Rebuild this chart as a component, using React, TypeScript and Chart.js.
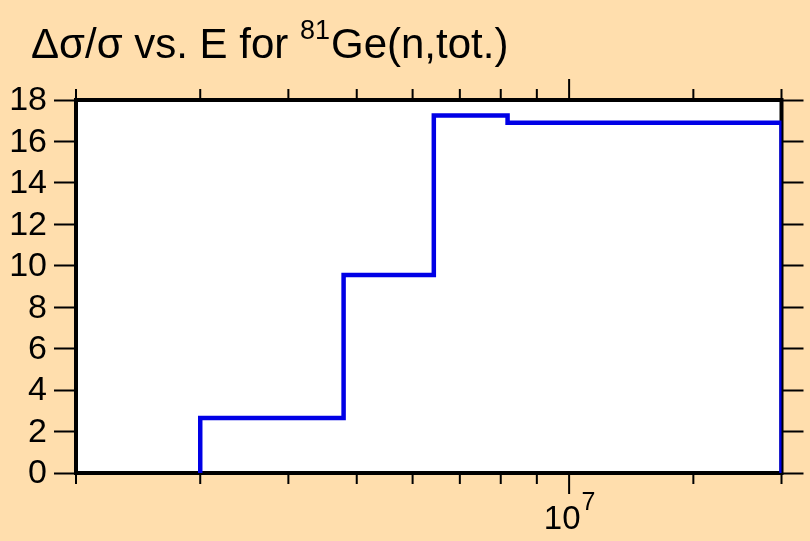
import { useEffect, useRef } from 'react';
import { Chart, registerables } from 'chart.js';

Chart.register(...registerables);

// ---- data ----
const binEdges = [3.0e6, 4.79e6, 6.43e6, 8.18e6, 2.0e7];
const binValues = [2.65, 9.55, 17.25, 16.9];
const xMin = 2.0e6;
const xMax = 2.0e7;
const yMin = 0;
const yMax = 18;
const yStep = 2;
const titleMain = 'Δσ/σ vs. E for ';
const titleSup = '81';
const titleRest = 'Ge(n,tot.)';
const xMajorBase = '10';

const FONT = '"Liberation Sans", Arial, Helvetica, sans-serif';
const BG = 'rgb(255,222,173)';
const LINE = 'rgb(0,0,230)';

function stepPoints() {
  const pts: { x: number; y: number }[] = [];
  pts.push({ x: binEdges[0], y: 0 });
  for (let i = 0; i < binValues.length; i++) {
    pts.push({ x: binEdges[i], y: binValues[i] });
    pts.push({ x: binEdges[i + 1], y: binValues[i] });
  }
  pts.push({ x: binEdges[binEdges.length - 1], y: 0 });
  return pts;
}

function textW(ctx: CanvasRenderingContext2D, s: string, size: number) {
  ctx.font = `${size}px ${FONT}`;
  return ctx.measureText(s).width;
}

function drawText(
  ctx: CanvasRenderingContext2D,
  s: string,
  x: number,
  y: number,
  size: number,
  align: CanvasTextAlign = 'left',
  baseline: CanvasTextBaseline = 'alphabetic'
) {
  ctx.save();
  ctx.font = `${size}px ${FONT}`;
  ctx.textAlign = align;
  ctx.textBaseline = baseline;
  ctx.fillStyle = '#000';
  ctx.fillText(s, x, y);
  ctx.restore();
}

const decor = {
  id: 'decor',
  beforeDraw(chart: any) {
    const { ctx, chartArea: a, width, height } = chart;
    ctx.save();
    ctx.fillStyle = BG;
    ctx.fillRect(0, 0, width, height);
    ctx.fillStyle = '#ffffff';
    ctx.fillRect(a.left, a.top, a.right - a.left, a.bottom - a.top);
    ctx.restore();
  },
  beforeDatasetsDraw(chart: any) {
    const { ctx, chartArea: a } = chart;
    const xs = chart.scales.x;
    const ys = chart.scales.y;
    ctx.save();
    ctx.strokeStyle = '#000';
    ctx.lineWidth = 2;
    ctx.beginPath();
    for (const t of xs.ticks) {
      const px = xs.getPixelForValue(t.value);
      const lg = Math.log10(t.value);
      const major = Math.abs(lg - Math.round(lg)) < 1e-9;
      const len = major ? 21 : 11;
      ctx.moveTo(px, a.bottom);
      ctx.lineTo(px, a.bottom + len);
      ctx.moveTo(px, a.top);
      ctx.lineTo(px, a.top - len);
    }
    ctx.stroke();
    ctx.lineWidth = 4;
    ctx.strokeRect(a.left, a.top, a.right - a.left, a.bottom - a.top);
    ctx.restore();

    // y labels from the y scale ticks
    for (const t of ys.ticks) {
      const py = ys.getPixelForValue(t.value);
      drawText(ctx, String(t.value), 47, py + 1, 34, 'right', 'middle');
    }

    // major x labels (10^n)
    for (const t of xs.ticks) {
      const lg = Math.log10(t.value);
      if (Math.abs(lg - Math.round(lg)) > 1e-9) continue;
      const px = xs.getPixelForValue(t.value);
      const exp = String(Math.round(lg));
      const wb = textW(ctx, xMajorBase, 33);
      const we = textW(ctx, exp, 25);
      const x0 = px - (wb + we) / 2;
      drawText(ctx, xMajorBase, x0, 529, 33);
      drawText(ctx, exp, x0 + wb + 1, 510, 25);
    }
  },
  afterDraw(chart: any) {
    const { ctx } = chart;
    let x = 31;
    drawText(ctx, titleMain, x, 58, 42);
    x += textW(ctx, titleMain, 42);
    drawText(ctx, titleSup, x, 39, 27);
    x += textW(ctx, titleSup, 27) + 1;
    drawText(ctx, titleRest, x, 58, 42);
  },
};

export default function App() {
  const ref = useRef<HTMLCanvasElement | null>(null);
  useEffect(() => {
    if (!ref.current) return;
    const gridOpts = {
      display: true,
      drawOnChartArea: false,
      drawTicks: true,
      tickLength: 22,
      tickWidth: 2,
      tickColor: '#000',
      color: '#000',
    };
    const chart = new Chart(ref.current, {
      type: 'line',
      data: {
        datasets: [
          {
            data: stepPoints(),
            borderColor: LINE,
            borderWidth: 4.5,
            pointRadius: 0,
            fill: false,
            tension: 0,
            borderJoinStyle: 'miter',
            borderCapStyle: 'butt',
            clip: 0,
          } as any,
        ],
      },
      options: {
        animation: false,
        responsive: false,
        maintainAspectRatio: false,
        devicePixelRatio: 1,
        layout: { padding: { top: 100, left: 0, right: 0, bottom: 0 } },
        plugins: { legend: { display: false }, tooltip: { enabled: false }, title: { display: false } },
        scales: {
          x: {
            type: 'logarithmic',
            position: 'bottom',
            min: xMin,
            max: xMax,
            grid: { display: false },
            border: { display: false },
            ticks: { display: false, autoSkip: false },
            afterFit: (s: any) => {
              s.height = 68;
            },
          },
          y: {
            type: 'linear',
            position: 'left',
            min: yMin,
            max: yMax,
            grid: gridOpts,
            border: { display: false },
            ticks: { display: false, stepSize: yStep },
            afterFit: (s: any) => {
              s.width = 76;
            },
          },
          y2: {
            type: 'linear',
            position: 'right',
            min: yMin,
            max: yMax,
            grid: gridOpts,
            border: { display: false },
            ticks: { display: false, stepSize: yStep },
            afterFit: (s: any) => {
              s.width = 28.5;
            },
          },
        },
      } as any,
      plugins: [decor],
    });
    return () => chart.destroy();
  }, []);
  return (
    <div style={{ position: 'fixed', left: 0, top: 0, width: 810, height: 541, background: BG }}>
      <canvas ref={ref} width={810} height={541} style={{ display: 'block', width: 810, height: 541 }} />
    </div>
  );
}
